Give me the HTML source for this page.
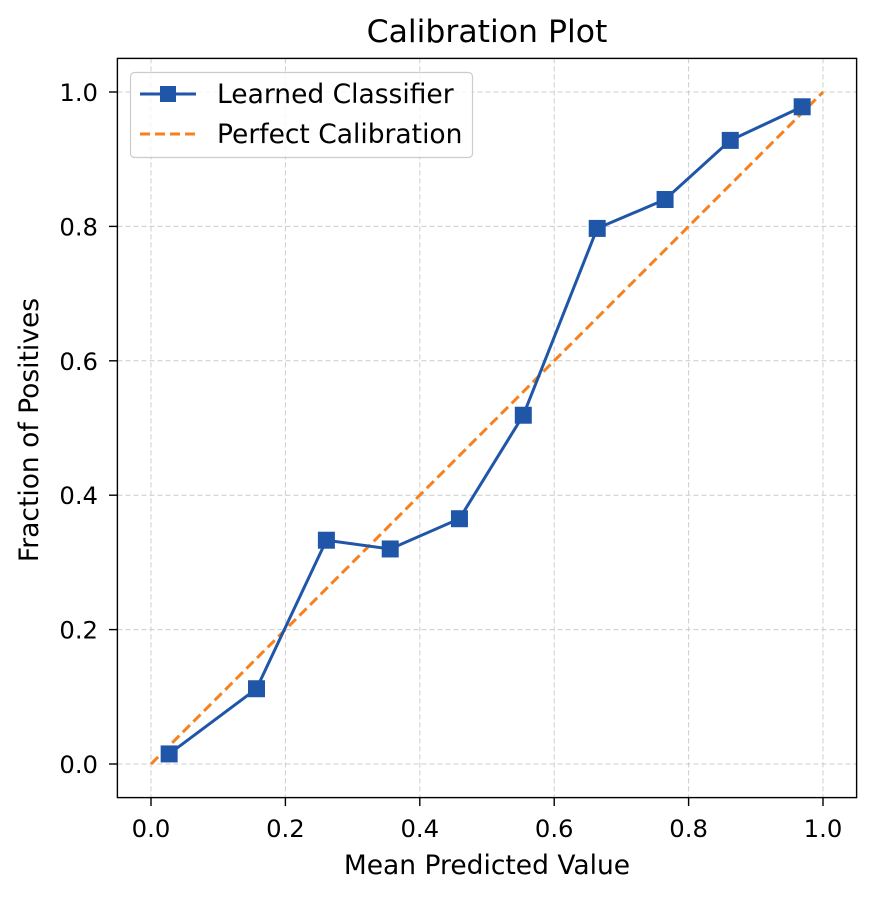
<!DOCTYPE html>
<html><head><meta charset="utf-8"><style>
body{margin:0;background:#fff;}
svg text{font-family:"DejaVu Sans","Liberation Sans",sans-serif;fill:#000;}
</style></head><body>
<svg id="chart" width="875" height="898" xmlns="http://www.w3.org/2000/svg">
<rect width="875" height="898" fill="#fff"/>
<g id="grid"></g>
<g id="series"></g>
<rect x="117.4" y="58.4" width="739.2" height="739.2" fill="none" stroke="#000" stroke-width="1.4"/>
<g id="ticks"></g>
<text x="487" y="42" font-size="31.5" text-anchor="middle">Calibration Plot</text>
<text x="487" y="874" font-size="26.5" text-anchor="middle">Mean Predicted Value</text>
<text x="38" y="430" font-size="26.5" text-anchor="middle" transform="rotate(-90 38 430)">Fraction of Positives</text>
<g>
<rect x="130.5" y="72.5" width="342" height="85" rx="4" fill="#fff" fill-opacity="0.8" stroke="#ccc" stroke-width="1.2"/>
<line x1="140" y1="94" x2="196" y2="94" stroke="#1f56a8" stroke-width="3"/>
<rect x="160" y="86" width="16" height="16" fill="#1f56a8"/>
<text x="217" y="103" font-size="26.5">Learned Classifier</text>
<line x1="140" y1="134" x2="196" y2="134" stroke="#f5821f" stroke-width="3" stroke-dasharray="10,5"/>
<text x="217" y="143" font-size="26.5">Perfect Calibration</text>
</g>
</svg>
<script>
const xVals=[0.027,0.157,0.261,0.356,0.459,0.554,0.664,0.765,0.862,0.969];
const yVals=[0.015,0.112,0.333,0.320,0.365,0.519,0.797,0.840,0.928,0.978];
const tickVals=[0,0.2,0.4,0.6,0.8,1.0];
const tickLabels=["0.0","0.2","0.4","0.6","0.8","1.0"];
const NS="http://www.w3.org/2000/svg";
const sx=v=>151+v*672, sy=v=>764-v*672;
function mk(t,a,p){const e=document.createElementNS(NS,t);for(const k in a)e.setAttribute(k,a[k]);p.appendChild(e);return e;}
const grid=document.getElementById('grid'),ticks=document.getElementById('ticks'),series=document.getElementById('series');
tickVals.forEach((v,i)=>{
 let g=mk('line',{x1:sx(v),x2:sx(v),y1:58.4,y2:797.6,stroke:'#ccc','stroke-width':1,'stroke-dasharray':'5,3'},grid);
 
 
 g=mk('line',{y1:sy(v),y2:sy(v),x1:117.4,x2:856.6,stroke:'#ccc','stroke-width':1,'stroke-dasharray':'5,3'},grid);
 
 
 let t=mk('line',{x1:sx(v),x2:sx(v),y1:797.6,y2:806,stroke:'#000','stroke-width':1.4},ticks);
 
 
 t=mk('line',{y1:sy(v),y2:sy(v),x1:109,x2:117.4,stroke:'#000','stroke-width':1.4},ticks);
 
 
 let l=mk('text',{x:sx(v),y:837,'font-size':24.3,'text-anchor':'middle'},ticks);l.textContent=tickLabels[i];
 
 
 l=mk('text',{x:98,y:sy(v)+9,'font-size':24.3,'text-anchor':'end'},ticks);l.textContent=tickLabels[i];
 
 
});
let d=mk('line',{x1:sx(0),y1:sy(0),x2:sx(1),y2:sy(1),stroke:'#f5821f','stroke-width':3,'stroke-dasharray':'10,5'},series);


let pl=mk('polyline',{points:xVals.map((x,i)=>sx(x)+','+sy(yVals[i])).join(' '),fill:'none',stroke:'#1f56a8','stroke-width':3},series);


xVals.forEach((x,i)=>{
 const r=mk('rect',{x:sx(x)-8.5,y:sy(yVals[i])-8.5,width:17,height:17,fill:'#1f56a8'},series);
 
 
});
</script>
</body></html>
